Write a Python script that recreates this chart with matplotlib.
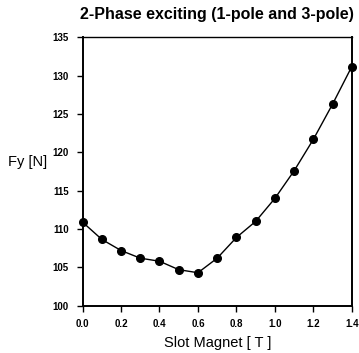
import matplotlib
matplotlib.use("Agg")
import matplotlib.pyplot as plt

plt.rcParams['font.family'] = ['Liberation Sans', 'DejaVu Sans']

slot_magnet = [0.0, 0.1, 0.2, 0.3, 0.4, 0.5, 0.6, 0.7, 0.8, 0.9, 1.0, 1.1, 1.2, 1.3, 1.4]
fy = [110.9, 108.65, 107.2, 106.2, 105.8, 104.7, 104.3, 106.2, 108.9, 111.0, 114.0, 117.6, 121.7, 126.3, 131.2]
x_ticks = [0.0, 0.2, 0.4, 0.6, 0.8, 1.0, 1.2, 1.4]
y_ticks = [100, 105, 110, 115, 120, 125, 130, 135]

fig = plt.figure(figsize=(3.59, 3.53), dpi=100)
ax = fig.add_axes([0.230, 0.134, 0.750, 0.760])
ax.plot(slot_magnet, fy, color='black', lw=1.0, marker='o', ms=5.5, clip_on=False, zorder=3)
ax.set_xlim(0, 1.4)
ax.set_ylim(100, 135)
ax.set_xticks(x_ticks)
ax.set_xticklabels([f"{v:.1f}" for v in x_ticks], fontsize=7, fontweight='bold')
ax.set_yticks(y_ticks)
ax.set_yticklabels([str(v) for v in y_ticks], fontsize=7, fontweight='bold')
ax.tick_params(axis='y', direction='out', length=4, width=1.0, pad=6)
ax.tick_params(axis='x', direction='out', length=4, width=1.0, pad=5.5)
for s in ['left', 'bottom', 'right']:
    ax.spines[s].set_linewidth(1.4)
ax.spines['top'].set_linewidth(1.0)
ax.set_title('2-Phase exciting (1-pole and 3-pole)', fontsize=11.5, fontweight='bold', pad=13)
ax.set_xlabel('Slot Magnet [ T ]', fontsize=10.5, labelpad=5)
ax.set_ylabel('Fy [N]', fontsize=10.5, rotation=0, va='center', ha='center')
ax.yaxis.set_label_coords(-0.204, 0.535)
fig.savefig('out.png', dpi=100)
